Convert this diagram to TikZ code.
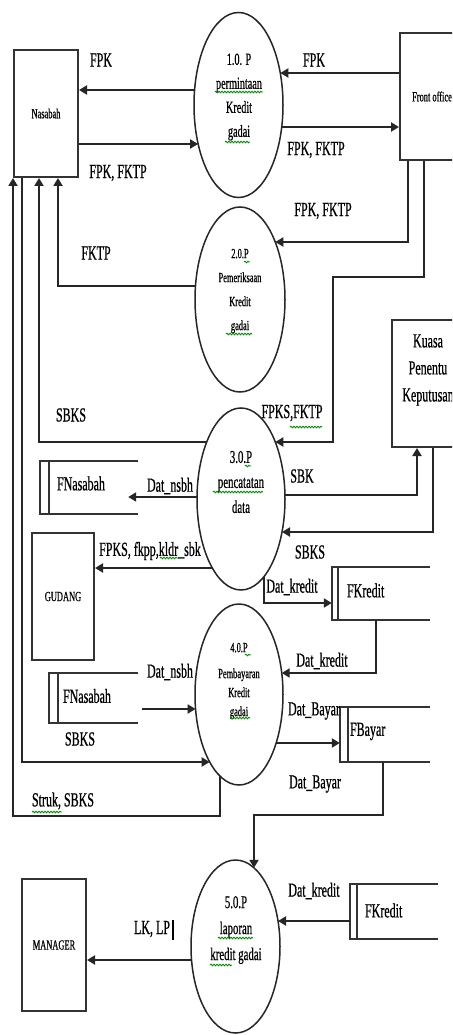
\documentclass[tikz,border=0pt]{standalone}
\usepackage{fontspec}
\setmainfont{Liberation Serif}[FakeStretch=0.6, FakeBold=0.6]
\usetikzlibrary{arrows.meta,calc,shapes.geometric,decorations.pathmorphing}
\tikzset{
 ent/.style={draw=black!80, line width=2pt, rectangle, inner sep=0pt, font=\fontsize{14}{16}\selectfont},
 proc/.style={draw=black!85, line width=1.5pt, ellipse, inner sep=0pt},
 ptext/.style={align=center, inner sep=0pt},
 store/.style={rectangle, inner sep=0pt},
 storeline/.style={draw=black!80, line width=2pt},
 storetext/.style={font=\fontsize{20}{24}\selectfont, inner sep=0pt, anchor=west},
 flow/.style={draw=black!85, line width=2.6pt, -{Triangle[length=8pt,width=9pt]}},
 lbl/.style={font=\fontsize{20}{24}\selectfont, inner sep=0pt},
 spell/.style={draw=green!55!black, line width=0.9pt, decorate, decoration={snake, amplitude=0.8pt, segment length=3pt}},
}
\begin{document}
\begin{tikzpicture}[x=1pt,y=-1pt]
\useasboundingbox (0,0) rectangle (452,1035);
\fill[white] (0,0) rectangle (452,1035);
\clip (0,0) rectangle (452,1035);

% entities
\node[ent, minimum width=64pt, minimum height=127pt] (nas) at (46,113.5) {Nasabah};
\node[ent, minimum width=64pt, minimum height=127pt] (fo) at (432,96.5) {Front office};
\node[ent, minimum width=72pt, minimum height=127pt] (kuasa) at (428,383.5) {};
\node[ptext, font=\fontsize{20}{27}\selectfont] (kuasat) at (428,370) {Kuasa\\Penentu\\Keputusan};
\node[ent, minimum width=62pt, minimum height=127pt] (gud) at (63,596.5) {GUDANG};
\node[ent, minimum width=64pt, minimum height=132pt] (mgr) at (54,945) {MANAGER};

% processes
\node[proc, minimum width=89pt, minimum height=185pt] (e1) at (238.5,105) {};
\node[proc, minimum width=90pt, minimum height=185pt] (e2) at (240,299.5) {};
\node[proc, minimum width=88pt, minimum height=182pt] (e3) at (241,499) {};
\node[proc, minimum width=88pt, minimum height=181pt] (e4) at (239,694.5) {};
\node[proc, minimum width=89pt, minimum height=173pt] (e5) at (235.5,946.5) {};

\node[ptext, font=\fontsize{17}{24}\selectfont] (e1t) at (239,97) {1.0. P\\permintaan\\Kredit\\gadai};
\node[ptext, font=\fontsize{14}{24}\selectfont] (e2t) at (240,291) {2.0.P\\Pemeriksaan\\Kredit\\gadai};
\node[ptext, font=\fontsize{18}{25}\selectfont] (e3t) at (241,482) {3.0.P\\pencatatan\\data};
\node[ptext, font=\fontsize{14}{19}\selectfont] (e4t) at (239,681) {4.0.P\\[7pt]Pembayaran\\Kredit\\gadai};
\node[ptext, font=\fontsize{18}{26}\selectfont] (e5t) at (236,930) {5.0.P\\laporan\\kredit gadai};

% data stores
\node[store, minimum width=98pt, minimum height=53pt] (fn1) at (89,487.5) {};
\node[store, minimum width=98pt, minimum height=53pt] (fk1) at (381,593.5) {};
\node[store, minimum width=89pt, minimum height=50pt] (fn2) at (93.5,698) {};
\node[store, minimum width=90pt, minimum height=55pt] (fb) at (385,734.5) {};
\node[store, minimum width=88pt, minimum height=55pt] (fk2) at (394,911.5) {};
\foreach \s/\d in {fn1/9, fk1/6, fn2/9, fb/8, fk2/7}{
  \draw[storeline] (\s.north east) -- (\s.north west) -- (\s.south west) -- (\s.south east);
  \draw[storeline] ($(\s.north west)+(\d,0)$) -- ($(\s.south west)+(\d,0)$);
}
\node[storetext] (fn1t) at ($(fn1.west)+(17,-4)$) {FNasabah};
\node[storetext] (fk1t) at ($(fk1.west)+(15,-3)$) {FKredit};
\node[storetext] (fn2t) at ($(fn2.west)+(14,-2)$) {FNasabah};
\node[storetext] (fbt) at ($(fb.west)+(10,-3)$) {FBayar};
\node[storetext] (fk2t) at ($(fk2.west)+(15,-1)$) {FKredit};

% bend points
\coordinate (b7) at (333,277);
\coordinate (b17) at (254,815);

% flows
\draw[flow] ($(e1)+(-43.9,-15)$) -- (nas.east |- 0,90);
\draw[flow] (nas.east |- 0,144) -- ($(e1)+(-40.4,39)$);
\draw[flow] (fo.west |- 0,73) -- ($(e1)+(41.8,-32)$);
\draw[flow] ($(e1)+(43.2,22)$) -- (fo.west |- 0,127);
\draw[flow] ($(fo.south west)+(9,0)$) |- ($(e2)+(35.3,-57.5)$);
\draw[flow] ($(e2)+(-44.5,-13.5)$) -| ($(nas.south west)+(45,0)$);
\draw[flow] ($(fo.south west)+(25,0)$) |- (b7) |- ($(e3)+(34.3,-57)$);
\draw[flow] ($(e3)+(-34.3,-57)$) -| ($(nas.south west)+(26,0)$);
\draw[flow] ($(e3)+(-44,-2)$) -- ($(fn1.east)+(-10,9.5)$);
\draw[flow] ($(e3)+(44,-4)$) -| ($(kuasa.south west)+(26,0)$);
\draw[flow] ($(kuasa.south west)+(42,0)$) |- ($(e3)+(41,33)$);
\draw[flow] ($(e3)+(-29,69)$) -- (gud.east |- 0,568);
\draw[flow] ($(e3)+(23,77.6)$) |- (fk1.west |- 0,603);
\draw[flow] ($(fk1.south west)+(44,0)$) |- ($(e4)+(42.7,-21.5)$);
\draw[flow] ($(fn2.east)+(4,11)$) -- ($(e4)+(-43.4,14.5)$);
\draw[flow] ($(e4)+(37.1,48.5)$) -- (fb.west |- 0,743);
\draw[flow] ($(fb.south west)+(43,0)$) |- (b17) -- ($(e5)+(18.5,-78.7)$);
\draw[flow] ($(nas.south west)+(9,0)$) |- ($(e4)+(-29.3,67.5)$);
\draw[flow] ($(e4)+(-19,81.6)$) |- (nas.south west |- 0,816) -- (nas.south west);
\draw[flow] (fk2.west |- 0,921) -- ($(e5)+(42.5,-25.5)$);
\draw[flow] ($(e5)+(-44,13.5)$) -- (mgr.east |- 0,960);

% flow labels
\node[lbl] (l1) at (101,60) {FPK};
\node[lbl] (l2) at (118,173) {FPK, FKTP};
\node[lbl] (l3) at (314,60) {FPK};
\node[lbl] (l4) at (316,150) {FPK, FKTP};
\node[lbl] (l5) at (323,211) {FPK, FKTP};
\node[lbl] (l6) at (96,253) {FKTP};
\node[lbl] (l7) at (292,413) {FPKS,FKTP};
\node[lbl] (l8) at (71,415) {SBKS};
\node[lbl] (l9) at (170,486) {Dat\_nsbh};
\node[lbl] (l10) at (302,476) {SBK};
\node[lbl] (l11) at (310,552) {SBKS};
\node[lbl] (l12) at (150,551) {FPKS, fkpp,kldr\_sbk};
\node[lbl] (l13) at (292,587) {Dat\_kredit};
\node[lbl] (l14) at (322,661) {Dat\_kredit};
\node[lbl] (l15) at (170,672) {Dat\_nsbh};
\node[lbl] (l16) at (314,711) {Dat\_Bayar};
\node[lbl] (l17) at (315,784) {Dat\_Bayar};
\node[lbl] (l18) at (80,739) {SBKS};
\node[lbl] (l19) at (63,801) {Struk, SBKS};
\node[lbl] (l20) at (314,891) {Dat\_kredit};
\node[lbl] (l21) at (152,929) {LK, LP};
\draw[line width=2pt] (l21.east) ++(3,-9) -- ++(0,20);

% spelling marks
\draw[spell] (215,92) -- (263,92);
\draw[spell] (225,142) -- (250,142);
\draw[spell] (244,262) -- (250,262);
\draw[spell] (226,334) -- (252,334);
\draw[spell] (245,466) -- (251,466);
\draw[spell] (213,492) -- (263,492);
\draw[spell] (245,655) -- (251,655);
\draw[spell] (230,718) -- (250,718);
\draw[spell] (218,938) -- (253,938);
\draw[spell] (210,965) -- (232,965);
\draw[spell] (290,427) -- (322,427);
\draw[spell] (160,558) -- (178,558);
\draw[spell] (32,812) -- (62,812);
\end{tikzpicture}
\end{document}
